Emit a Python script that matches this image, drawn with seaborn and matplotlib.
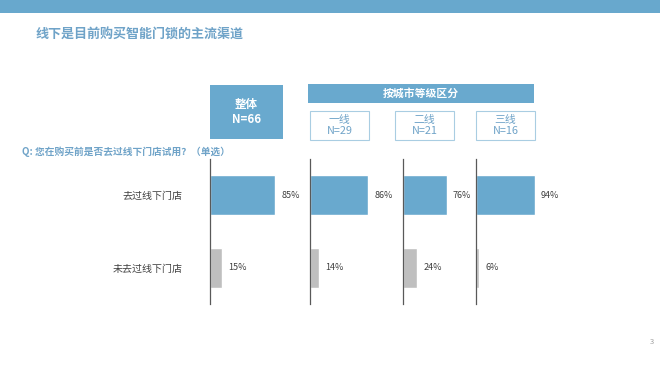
import matplotlib
matplotlib.use("Agg")
import matplotlib.pyplot as plt
from matplotlib.patches import Rectangle
import seaborn as sns
import pandas as pd

# 数据
answers = ["去过线下门店", "未去过线下门店"]
groups = ["整体", "一线", "二线", "三线"]
group_n = [66, 29, 21, 16]
went = [85, 86, 76, 94]
not_went = [15, 14, 24, 6]

blue = "#69a9ce"
gray = "#bfbfbf"
txt_blue = "#6fa3c8"

sns.set_theme(style="white")
plt.rcParams["font.family"] = ["Noto Sans CJK SC", "DejaVu Sans"]

rows = []
for g, a, b in zip(groups, went, not_went):
    rows.append({"group": g, "answer": answers[0], "pct": a})
    rows.append({"group": g, "answer": answers[1], "pct": b})
df = pd.DataFrame(rows)

W, H = 660, 372
fig = plt.figure(figsize=(6.6, 3.72), dpi=100)


def fx(px):
    return px / W


def fy(py):
    return 1 - py / H


# 顶部色带 + 标题
fig.add_artist(Rectangle((0, fy(13)), 1, 13 / H, transform=fig.transFigure,
                         color="#68a8cd", lw=0))
fig.text(fx(36), fy(35), "线下是目前购买智能门锁的主流渠道", fontsize=9.4,
         fontweight="bold", color=txt_blue, va="center")

# 问题
fig.text(fx(22), fy(152), "Q: 您在购买前是否去过线下门店试用？（单选）", fontsize=7,
         fontweight="bold", color=txt_blue, va="center")

# 整体框
fig.add_artist(Rectangle((fx(210), fy(139)), 73 / W, 54 / H, transform=fig.transFigure,
                         color=blue, lw=0))
fig.text(fx(246.5), fy(112), "整体\nN=66", fontsize=8.3, fontweight="bold",
         color="white", ha="center", va="center", linespacing=1.25)

# 按城市等级区分
fig.add_artist(Rectangle((fx(308), fy(103)), 226 / W, 19 / H, transform=fig.transFigure,
                         color=blue, lw=0))
fig.text(fx(421), fy(93.5), "按城市等级区分", fontsize=7.8, fontweight="bold",
         color="white", ha="center", va="center")

box_x = [310, 395, 476]
for bx, g, n in zip(box_x, groups[1:], group_n[1:]):
    fig.add_artist(Rectangle((fx(bx), fy(140)), 59 / W, 29 / H, transform=fig.transFigure,
                             facecolor="white", edgecolor="#a9cde2", lw=0.8))
    fig.text(fx(bx + 29.5), fy(125.5), f"{g}\nN={n}", fontsize=7.8, color=txt_blue,
             ha="center", va="center", linespacing=1.15)

# 各分组条形图
ax_left = [210, 309.5, 403.3, 475.5]
ax_width = [77, 68, 57, 63]
for i, g in enumerate(groups):
    ax = fig.add_axes([fx(ax_left[i]), fy(304), ax_width[i] / W, 145 / H])
    sub = df[df["group"] == g]
    sns.barplot(data=sub, x="pct", y="answer", hue="answer", order=answers,
                palette=[blue, gray], width=0.55, legend=False, ax=ax, saturation=1)
    ax.set_xlim(0, 100)
    ax.set_ylim(1.5, -0.5)
    for j, v in enumerate(sub["pct"]):
        ax.annotate(f"{v}%", (v, j), xytext=(4.5, 0), textcoords="offset points",
                    fontsize=6.5, color="#404040", va="center", ha="left")
    for s in ["top", "right", "bottom"]:
        ax.spines[s].set_visible(False)
    ax.spines["left"].set_color("#595959")
    ax.spines["left"].set_linewidth(0.9)
    ax.set_xticks([])
    ax.set_xlabel("")
    ax.set_ylabel("")
    ax.patch.set_alpha(0)
    if i == 0:
        ax.tick_params(axis="y", length=0, pad=20, labelsize=7.2, labelcolor="#404040")
    else:
        ax.set_yticks([])

fig.text(fx(652), fy(342), "3", fontsize=5.5, color="#a0a0a0", ha="center", va="center")

fig.savefig("out.png", dpi=100, facecolor="white")
